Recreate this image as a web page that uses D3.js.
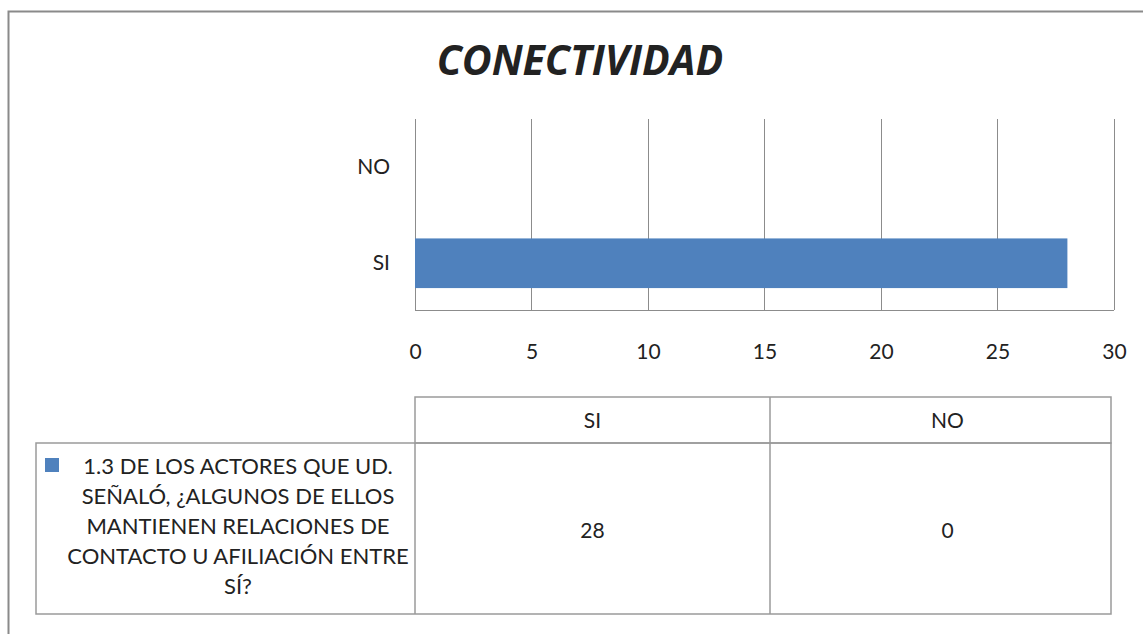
<!DOCTYPE html>
<html><head><meta charset="utf-8">
<script src="https://cdn.jsdelivr.net/npm/d3@7"></script>
<style>body{margin:0;background:#fff}svg{display:block}text{font-family:Lato,"Open Sans",sans-serif;fill:#222}</style>
</head><body><svg id="c" width="1143" height="634"></svg>
<script>
const title = "CONECTIVIDAD";
const categories = ["SI", "NO"];
const values = [28, 0];
const xTicks = [0, 5, 10, 15, 20, 25, 30];
const seriesName = ["1.3 DE LOS ACTORES QUE UD.", "SEÑALÓ, ¿ALGUNOS DE ELLOS", "MANTIENEN RELACIONES DE", "CONTACTO U AFILIACIÓN ENTRE", "SÍ?"];
const barColor = "#4f81bd";

const svg = d3.select("#c");
svg.append("rect").attr("x",8.5).attr("y",11.5).attr("width",1150).attr("height",640)
  .attr("fill","#fff").attr("stroke","#8a8a8a").attr("stroke-width",2);

svg.append("text").attr("x",580).attr("y",75).attr("text-anchor","middle")
  .style("font-family","'Open Sans',sans-serif").style("font-weight","700").style("font-style","italic")
  .style("font-size","41px").attr("fill","#000").text(title);

const L=415,R=1114,T=119,B=310;
const x = d3.scaleLinear().domain([0,30]).range([L,R]);
const y = d3.scaleBand().domain(["NO","SI"]).range([T,B]).paddingInner(0).paddingOuter(0);

const grid = svg.append("g");
grid.selectAll("line").data(xTicks).join("line")
  .attr("x1",d=>x(d)).attr("x2",d=>x(d)).attr("y1",T).attr("y2",B)
  .attr("stroke","#8c8c8c").attr("stroke-width",1).attr("shape-rendering","crispEdges");
svg.append("line").attr("x1",L).attr("x2",R).attr("y1",B).attr("y2",B)
  .attr("stroke","#8c8c8c").attr("shape-rendering","crispEdges");

const bh = y.bandwidth()*0.52;
svg.selectAll("rect.bar").data(categories.map((c,i)=>({c,v:values[i]}))).join("rect")
  .attr("class","bar").attr("x",x(0)).attr("width",d=>x(d.v)-x(0))
  .attr("y",d=>y(d.c)+y.bandwidth()/2-bh/2+1).attr("height",bh).attr("fill",barColor);

const xAxis = d3.axisBottom(x).tickValues(xTicks).tickSize(0).tickPadding(0);
const gx = svg.append("g").attr("transform",`translate(0,${B})`).call(xAxis);
gx.select(".domain").remove();
gx.selectAll("text").attr("dy",0).attr("y",49).style("font-size","21px").style("font-family","Lato,sans-serif").attr("fill","#222");

const yAxis = d3.axisLeft(y).tickSize(0).tickPadding(0);
const gy = svg.append("g").attr("transform",`translate(${L},0)`).call(yAxis);
gy.select(".domain").remove();
gy.selectAll("text").attr("x",-25).attr("dy","0.35em").style("font-size","21px").style("font-family","Lato,sans-serif").attr("fill","#222");

// data table
const cols = d3.scaleBand().domain(categories).range([415,1125]);
const tRight = 1111;
const tStroke = "#9a9a9a";
const hTop=397, hBot=443, bBot=614, legL=36;
const tbl = svg.append("g").attr("stroke",tStroke).attr("stroke-width",1.5).attr("fill","none");
tbl.append("rect").attr("x",415).attr("y",hTop).attr("width",tRight-415).attr("height",hBot-hTop);
tbl.append("rect").attr("x",legL).attr("y",hBot).attr("width",tRight-legL).attr("height",bBot-hBot);
tbl.append("line").attr("x1",415).attr("x2",415).attr("y1",hBot).attr("y2",bBot);
tbl.append("line").attr("x1",cols("NO")).attr("x2",cols("NO")).attr("y1",hTop).attr("y2",bBot);

svg.selectAll("text.hdr").data(categories).join("text").attr("class","hdr")
  .attr("x",d=>cols(d)+cols.bandwidth()/2).attr("y",428).attr("text-anchor","middle")
  .style("font-size","21px").text(d=>d);
svg.selectAll("text.val").data(values).join("text").attr("class","val")
  .attr("x",(d,i)=>cols(categories[i])+cols.bandwidth()/2).attr("y",538).attr("text-anchor","middle")
  .style("font-size","21px").text(d=>d);

svg.append("rect").attr("x",45).attr("y",458).attr("width",14).attr("height",14).attr("fill",barColor);
svg.selectAll("text.leg").data(seriesName).join("text").attr("class","leg")
  .attr("x",238).attr("y",(d,i)=>474+i*30).attr("text-anchor","middle")
  .style("font-size","22px").text(d=>d);
</script></body></html>
